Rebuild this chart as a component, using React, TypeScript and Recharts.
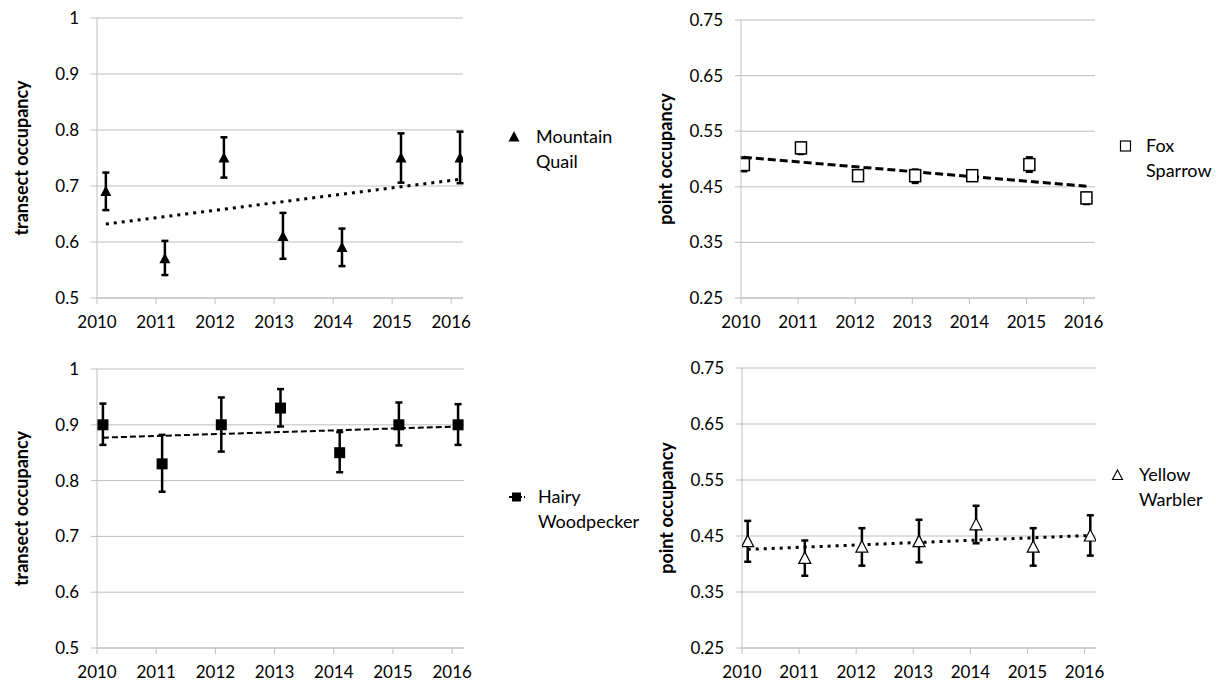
import React from 'react';
import { ScatterChart, Scatter, XAxis, YAxis, CartesianGrid, ErrorBar, Legend } from 'recharts';

const FONT = 'Lato, "Open Sans", sans-serif';
const GRID = '#bfbfbf';

const years = [2010, 2011, 2012, 2013, 2014, 2015, 2016];
const transectTicks = [0.5, 0.6, 0.7, 0.8, 0.9, 1];
const pointTicks = [0.25, 0.35, 0.45, 0.55, 0.65, 0.75];

// Mountain Quail
const quailX = [2010.15, 2011.15, 2012.15, 2013.15, 2014.15, 2015.15, 2016.15];
const quailMean = [0.69, 0.57, 0.75, 0.61, 0.59, 0.75, 0.75];
const quailLow = [0.657, 0.541, 0.715, 0.57, 0.557, 0.706, 0.705];
const quailHigh = [0.724, 0.602, 0.787, 0.652, 0.624, 0.794, 0.797];
const quailTrend = [0.632, 0.712];

// Fox Sparrow
const sparrowX = [2010.05, 2011.05, 2012.05, 2013.05, 2014.05, 2015.05, 2016.05];
const sparrowMean = [0.49, 0.52, 0.47, 0.47, 0.47, 0.49, 0.43];
const sparrowLow = [0.478, 0.509, 0.466, 0.457, 0.462, 0.477, 0.419];
const sparrowHigh = [0.503, 0.529, 0.474, 0.481, 0.479, 0.503, 0.439];
const sparrowTrend = [0.503, 0.451];

// Hairy Woodpecker
const woodpeckerX = [2010.1, 2011.1, 2012.1, 2013.1, 2014.1, 2015.1, 2016.1];
const woodpeckerMean = [0.9, 0.83, 0.9, 0.93, 0.85, 0.9, 0.9];
const woodpeckerLow = [0.864, 0.78, 0.852, 0.897, 0.815, 0.863, 0.864];
const woodpeckerHigh = [0.938, 0.882, 0.949, 0.964, 0.887, 0.94, 0.937];
const woodpeckerTrend = [0.877, 0.897];

// Yellow Warbler
const warblerX = [2010.1, 2011.1, 2012.1, 2013.1, 2014.1, 2015.1, 2016.1];
const warblerMean = [0.44, 0.41, 0.43, 0.44, 0.47, 0.43, 0.45];
const warblerLow = [0.404, 0.379, 0.397, 0.403, 0.437, 0.397, 0.415];
const warblerHigh = [0.477, 0.442, 0.464, 0.479, 0.504, 0.464, 0.487];
const warblerTrend = [0.426, 0.451];

const toPoints = (xs: number[], mean: number[], low: number[], high: number[]) =>
  xs.map((x, i) => ({ x, y: mean[i], err: [mean[i] - low[i], high[i] - mean[i]] }));

const toTrend = (xs: number[], ends: number[]) => [
  { x: xs[0], y: ends[0] },
  { x: xs[xs.length - 1], y: ends[1] },
];

const triangleFilled = ({ cx, cy }: any) => (
  <path d={`M${cx},${cy - 6}L${cx + 5.5},${cy + 4.5}L${cx - 5.5},${cy + 4.5}Z`} fill="#000" />
);
const triangleOpen = ({ cx, cy }: any) => (
  <path d={`M${cx},${cy - 6.5}L${cx + 6},${cy + 5}L${cx - 6},${cy + 5}Z`} fill="#fff" stroke="#000" strokeWidth={1.2} />
);
const squareFilled = ({ cx, cy }: any) => (
  <rect x={cx - 5.5} y={cy - 5.5} width={11} height={11} fill="#000" />
);
const squareOpen = ({ cx, cy }: any) => (
  <rect x={cx - 5.5} y={cy - 6} width={11} height={12} fill="#fff" stroke="#000" strokeWidth={1.5} />
);
const noShape = () => <g />;

type LegendProps = { marker: React.ReactNode; lines: string[]; textOffset: number };

const LegendBox = ({ marker, lines, textOffset }: LegendProps) => (
  <div style={{ position: 'relative', fontFamily: FONT, fontSize: 18, lineHeight: '25px', color: '#000' }}>
    <svg width={16} height={16} style={{ position: 'absolute', left: 0, top: 4.5 }}>
      {marker}
    </svg>
    <div style={{ marginLeft: textOffset, whiteSpace: 'nowrap' }}>
      {lines.map((l) => (
        <div key={l}>{l}</div>
      ))}
    </div>
  </div>
);

type PanelProps = {
  left: number;
  top: number;
  width: number;
  height: number;
  margin: { top: number; right: number; bottom: number; left: number };
  yLabel: string;
  yTicks: number[];
  points: { x: number; y: number; err: number[] }[];
  trend: { x: number; y: number }[];
  shape: any;
  trendStyle: { strokeWidth: number; strokeDasharray: string };
  legend: LegendProps;
  legendPos: { left: number; top: number };
};

const Panel = (p: PanelProps) => (
  <div style={{ position: 'absolute', left: p.left, top: p.top }}>
    <ScatterChart width={p.width} height={p.height} margin={p.margin}>
      <CartesianGrid vertical={false} stroke={GRID} strokeWidth={1} />
      <XAxis
        type="number"
        dataKey="x"
        domain={[2010, 2016.2]}
        ticks={years}
        interval={0}
        allowDataOverflow
        height={30}
        stroke={GRID}
        tickSize={6}
        tickMargin={12}
        tick={{ fill: '#000', fontSize: 17, fontFamily: FONT }}
      />
      <YAxis
        type="number"
        dataKey="y"
        domain={[p.yTicks[0], p.yTicks[p.yTicks.length - 1]]}
        ticks={p.yTicks}
        interval={0}
        allowDataOverflow
        width={82}
        stroke={GRID}
        tickSize={6}
        tickMargin={12}
        tick={{ fill: '#000', fontSize: 17, fontFamily: FONT }}
        label={{
          value: p.yLabel,
          angle: -90,
          position: 'insideLeft',
          offset: 7,
          style: { textAnchor: 'middle', fontSize: 18, fontWeight: 700, fontFamily: FONT, fill: '#000' },
        }}
      />
      <Scatter
        data={p.trend}
        shape={noShape}
        line={{ stroke: '#000', strokeWidth: p.trendStyle.strokeWidth, strokeDasharray: p.trendStyle.strokeDasharray }}
        isAnimationActive={false}
      />
      <Scatter data={p.points} shape={p.shape} isAnimationActive={false}>
        <ErrorBar dataKey="err" direction="y" width={3.5} stroke="#000" strokeWidth={2.5} />
      </Scatter>
      <Legend
        layout="vertical"
        align="center"
        verticalAlign="middle"
        wrapperStyle={{ left: p.legendPos.left, top: p.legendPos.top, width: 140, height: 50 }}
        content={() => <LegendBox {...p.legend} />}
      />
    </ScatterChart>
  </div>
);

const App = () => (
  <div style={{ position: 'absolute', left: 0, top: 0, width: 1216, height: 686, background: '#fff' }}>
    <Panel
      left={0}
      top={0}
      width={610}
      height={340}
      margin={{ top: 18, right: 147, bottom: 12, left: 15 }}
      yLabel="transect occupancy"
      yTicks={transectTicks}
      points={toPoints(quailX, quailMean, quailLow, quailHigh)}
      trend={toTrend(quailX, quailTrend)}
      shape={triangleFilled}
      trendStyle={{ strokeWidth: 3, strokeDasharray: '3 5' }}
      legend={{ marker: triangleFilled({ cx: 7, cy: 8 }), lines: ['Mountain', 'Quail'], textOffset: 29 }}
      legendPos={{ left: 507, top: 124 }}
    />
    <Panel
      left={610}
      top={0}
      width={606}
      height={340}
      margin={{ top: 20, right: 121, bottom: 12, left: 49 }}
      yLabel="point occupancy"
      yTicks={pointTicks}
      points={toPoints(sparrowX, sparrowMean, sparrowLow, sparrowHigh)}
      trend={toTrend(sparrowX, sparrowTrend)}
      shape={squareOpen}
      trendStyle={{ strokeWidth: 3, strokeDasharray: '8 4' }}
      legend={{
        marker: <rect x={2.5} y={3} width={10} height={10} fill="#fff" stroke="#000" strokeWidth={1.2} />,
        lines: ['Fox', 'Sparrow'],
        textOffset: 28,
      }}
      legendPos={{ left: 508, top: 133 }}
    />
    <Panel
      left={0}
      top={340}
      width={610}
      height={346}
      margin={{ top: 29, right: 146, bottom: 8, left: 15 }}
      yLabel="transect occupancy"
      yTicks={transectTicks}
      points={toPoints(woodpeckerX, woodpeckerMean, woodpeckerLow, woodpeckerHigh)}
      trend={toTrend(woodpeckerX, woodpeckerTrend)}
      shape={squareFilled}
      trendStyle={{ strokeWidth: 2, strokeDasharray: '6 3' }}
      legend={{
        marker: (
          <g>
            <line x1={0} y1={8} x2={16} y2={8} stroke="#000" strokeWidth={2} strokeDasharray="3 2" />
            <rect x={3} y={3.5} width={9} height={9} fill="#000" />
          </g>
        ),
        lines: ['Hairy', 'Woodpecker'],
        textOffset: 29,
      }}
      legendPos={{ left: 509, top: 144 }}
    />
    <Panel
      left={610}
      top={340}
      width={606}
      height={346}
      margin={{ top: 28, right: 120, bottom: 8, left: 50 }}
      yLabel="point occupancy"
      yTicks={pointTicks}
      points={toPoints(warblerX, warblerMean, warblerLow, warblerHigh)}
      trend={toTrend(warblerX, warblerTrend)}
      shape={triangleOpen}
      trendStyle={{ strokeWidth: 3, strokeDasharray: '3 5' }}
      legend={{
        marker: <path d="M7.5,3L12.5,12.5L2.5,12.5Z" fill="#fff" stroke="#000" strokeWidth={1.1} />,
        lines: ['Yellow', 'Warbler'],
        textOffset: 29,
      }}
      legendPos={{ left: 500, top: 122 }}
    />
  </div>
);

export default App;
